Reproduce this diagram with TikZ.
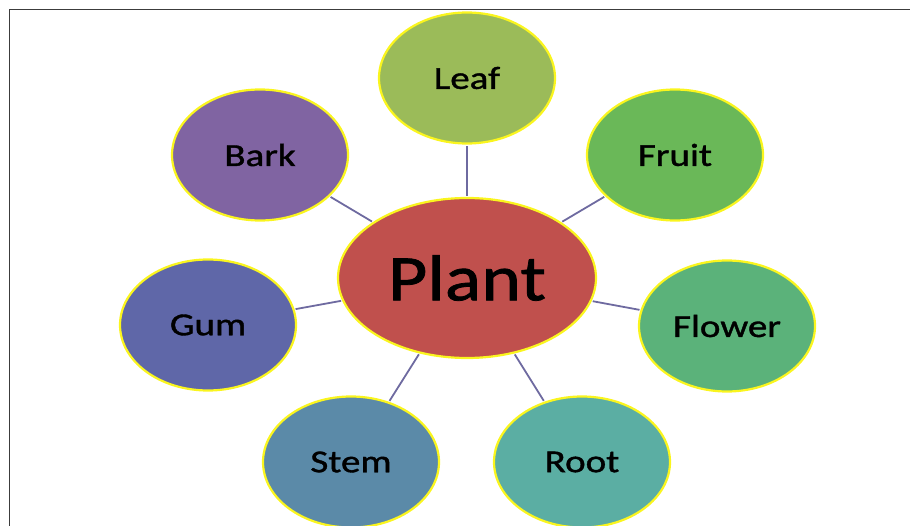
\documentclass[tikz,border=0pt]{standalone}
\usepackage{fontspec}
\setmainfont{Carlito}
\newfontfamily\partfont[FakeStretch=1.22, FakeBold=1.2]{Carlito}
\newfontfamily\plantfont[FakeStretch=1.17, FakeBold=1.2]{Carlito}
\definecolor{leafgreen}{RGB}{155, 187, 89}
\definecolor{fruitgreen}{RGB}{106, 184, 88}
\definecolor{flowergreen}{RGB}{91, 178, 122}
\definecolor{rootteal}{RGB}{91, 174, 163}
\definecolor{stemblue}{RGB}{91, 138, 168}
\definecolor{gumblue}{RGB}{95, 103, 168}
\definecolor{barkviolet}{RGB}{128, 100, 162}
\definecolor{plantred}{RGB}{192, 80, 77}
\definecolor{rimyellow}{RGB}{250, 245, 30}
\definecolor{linkviolet}{RGB}{110, 106, 160}
\definecolor{framegray}{RGB}{60, 60, 60}
\usetikzlibrary{shapes.geometric}

\begin{document}
\begin{tikzpicture}[x=1pt, y=-1pt,
  partnode/.style={ellipse, draw=rimyellow, line width=2.2pt, inner sep=0pt, minimum width=176pt, minimum height=131pt, font=\partfont\fontsize{32}{32}\selectfont},
  link/.style={draw=linkviolet, line width=1.8pt, shorten <=1pt, shorten >=1pt}
]
  \useasboundingbox (0,0) rectangle (910,526);
  \draw[framegray, line width=1.5pt] (9.5,526) -- (9.5,9.5) -- (910,9.5);

  \node[partnode, fill=plantred, minimum width=258pt, minimum height=160pt, font=\plantfont\fontsize{65}{65}\selectfont] (plant) at (467, 278) {Plant};
  \node[partnode, fill=leafgreen] (leaf) at (467, 78) {Leaf};
  \node[partnode, fill=fruitgreen] (fruit) at (675, 155) {Fruit};
  \node[partnode, fill=flowergreen] (flower) at (727, 326) {Flower};
  \node[partnode, fill=rootteal] (root) at (582, 462) {Root};
  \node[partnode, fill=stemblue] (stem) at (351, 462) {Stem};
  \node[partnode, fill=gumblue] (gum) at (208, 325) {Gum};
  \node[partnode, fill=barkviolet] (bark) at (260, 155) {Bark};

  \foreach \part in {leaf, fruit, flower, root, stem, gum, bark}
    \draw[link] (plant) -- (\part);
\end{tikzpicture}
\end{document}
